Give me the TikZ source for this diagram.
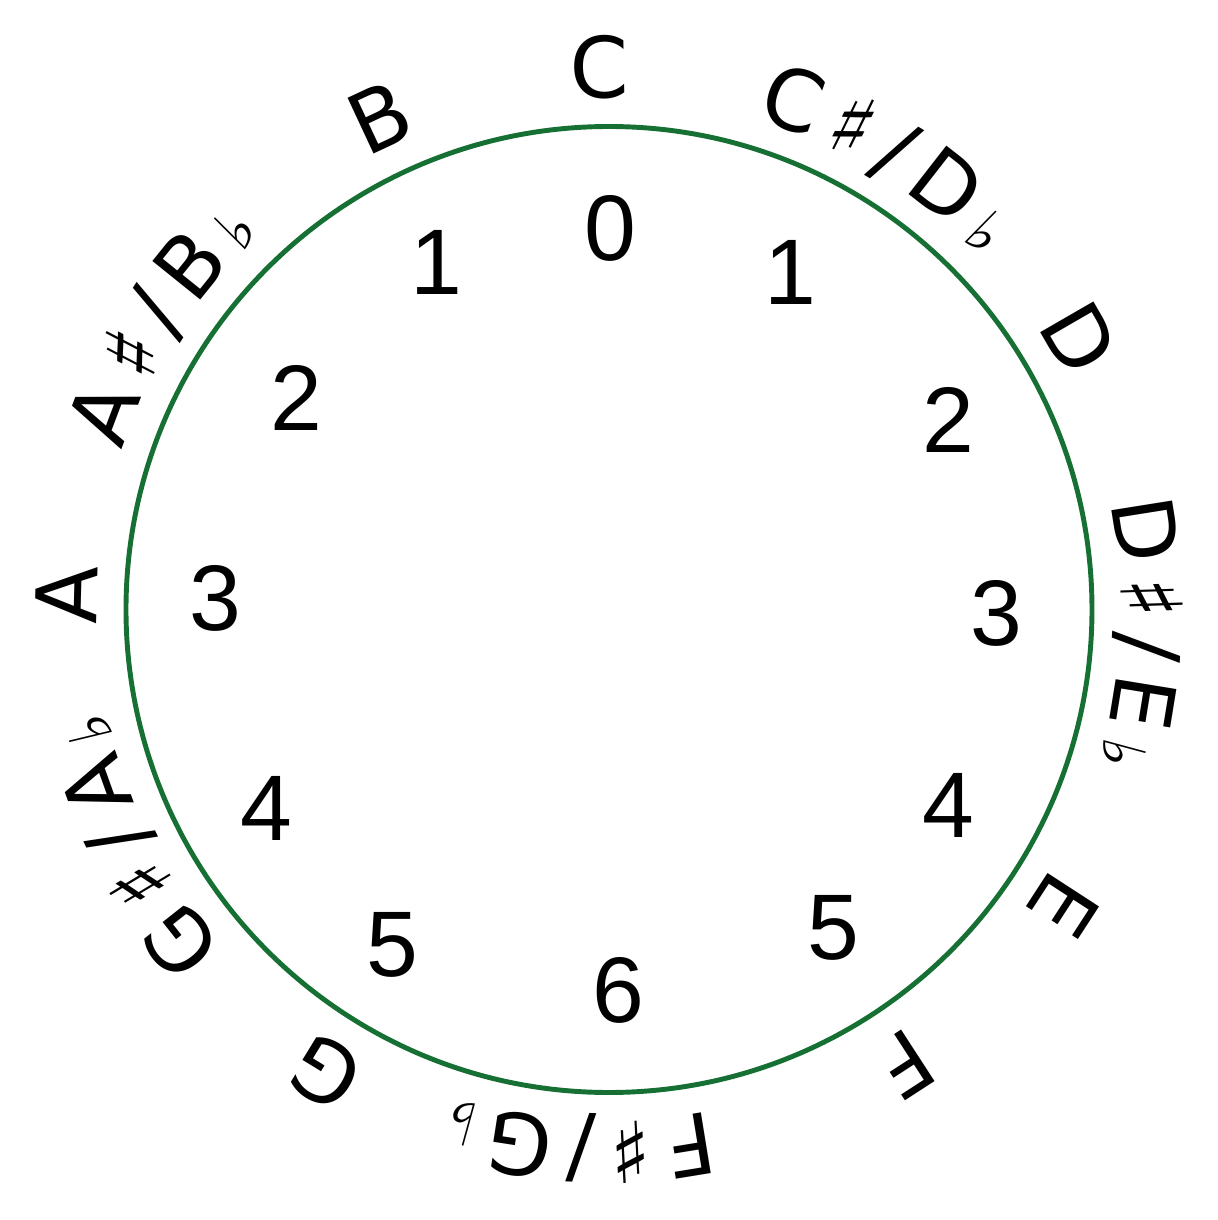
\documentclass[tikz,border=0pt]{standalone}
\usepackage{fontspec}
\setmainfont{Liberation Sans}
\newfontfamily\notefont{DejaVu Sans}
\usetikzlibrary{decorations.text,calc}
\definecolor{ringgreen}{RGB}{22,112,52}
\newcommand\nfa{\notefont\fontsize{24}{28}\selectfont}
\newcommand\nfk{\notefont\fontsize{24}{28}\selectfont\kern3.4pt}
\newcommand\nfb{\notefont\fontsize{17}{20}\selectfont\kern3.4pt}
\newcommand\notearc[2]{%
  \path[decorate, decoration={text along path, text align=center,
        text format delimiters={[}{]}, text={#2}}]
    ($(O)+({#1+40}:5.12)$) arc[start angle={#1+40}, end angle={#1-40}, radius=5.12cm];}
\begin{document}
\begin{tikzpicture}[
  digit/.style={font=\fontsize{26.5}{30}\selectfont, inner sep=0pt}
]
\useasboundingbox (0,0) rectangle (12.18,12.20);
\coordinate (O) at (6.09,6.105);
\node[circle, draw=ringgreen, line width=1.4pt, minimum size=9.66cm, inner sep=0pt] (ring) at (O) {};
% notes
\notearc{91}{[\nfa]C}
\notearc{59}{[\nfk]C♯/D[\nfb]♭}
\notearc{30}{[\nfa]D}
\notearc{-2}{[\nfk]D♯/E[\nfb]♭}
\notearc{-33}{[\nfa]E}
\notearc{-57}{[\nfa]F}
\notearc{-92.5}{[\nfk]F♯/G[\nfb]♭}
\notearc{-121.5}{[\nfa]G}
\notearc{-153}{[\nfk]G♯/A[\nfb]♭}
\notearc{178.5}{[\nfa]A}
\notearc{148}{[\nfk]A♯/B[\nfb]♭}
\notearc{115}{[\nfa]B}
% digits
\node[digit] (d0) at (6.10,9.92) {0};
\node[digit] (d1r) at (7.90,9.48) {1};
\node[digit] (d2r) at (9.48,8.00) {2};
\node[digit] (d3r) at (9.96,6.07) {3};
\node[digit] (d4r) at (9.48,4.15) {4};
\node[digit] (d5r) at (8.33,2.92) {5};
\node[digit] (d6) at (6.18,2.30) {6};
\node[digit] (d5l) at (3.92,2.75) {5};
\node[digit] (d4l) at (2.66,4.12) {4};
\node[digit] (d3l) at (2.15,6.22) {3};
\node[digit] (d2l) at (2.96,8.22) {2};
\node[digit] (d1l) at (4.36,9.58) {1};
\end{tikzpicture}
\end{document}
